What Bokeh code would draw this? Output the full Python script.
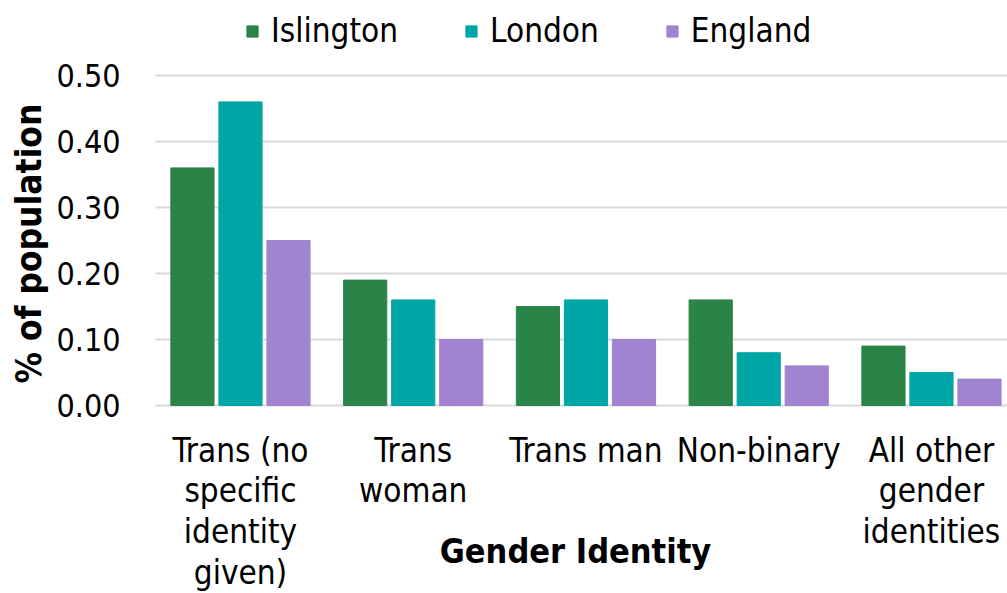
import math
from bokeh.plotting import figure
from bokeh.models import ColumnDataSource, Range1d, Legend, LegendItem
from bokeh.core.properties import value
from bokeh.transform import dodge
from bokeh.embed import file_html
from bokeh.resources import INLINE

categories = ["Trans (no\nspecific\nidentity\ngiven)", "Trans\nwoman", "Trans man",
              "Non-binary", "All other\ngender\nidentities"]
islington = [0.36, 0.19, 0.15, 0.16, 0.09]
london = [0.46, 0.16, 0.16, 0.08, 0.05]
england = [0.25, 0.10, 0.10, 0.06, 0.04]
series_names = ["Islington", "London", "England"]
colors = ["#2A8447", "#00A6A6", "#A283CF"]
y_ticks = [0.0, 0.1, 0.2, 0.3, 0.4, 0.5]
y_tick_labels = ["0.00", "0.10", "0.20", "0.30", "0.40", "0.50"]
x_title = "Gender Identity"
y_title = "% of population"

FONT = value("DejaVu Sans Condensed")
W, H = 1007, 593
PLOT_LEFT, ZERO_Y = 153.6, 405          # pixel position of the data area origin
PX_PER_CAT, PX_PER_UNIT = 172.75, 660.0

def px_x(px):   # pixel column -> data x
    return (px - PLOT_LEFT) / PX_PER_CAT

def px_y(py):   # pixel row -> data y
    return (ZERO_Y - py) / PX_PER_UNIT

n = len(categories)
xc = [i + 0.5 for i in range(n)]
src = ColumnDataSource(dict(x=xc, cat=categories, Islington=islington, London=london, England=england))

p = figure(width=W, height=H, output_backend="svg", toolbar_location=None,
           x_range=Range1d(px_x(0), px_x(W)), y_range=Range1d(px_y(H), px_y(0)),
           x_axis_type=None, y_axis_type=None, min_border=0)
p.outline_line_color = None
p.grid.visible = False

# gridlines
p.segment(x0=[px_x(155)] * len(y_ticks), x1=[px_x(W)] * len(y_ticks), y0=y_ticks, y1=y_ticks,
          line_color="#D9D9D9", line_width=2)

# bars
offsets = [-0.278, 0.0, 0.278]
renderers = []
for name, col, off in zip(series_names, colors, offsets):
    r = p.vbar(x=dodge("x", off), top=name, width=0.25, source=src,
               fill_color=col, line_color=col)
    renderers.append(r)

# y tick labels
p.text(x=[px_x(120)] * len(y_ticks), y=y_ticks, text=y_tick_labels,
       text_font=FONT, text_font_size=value("32px"), text_color="#000000",
       text_align="right", text_baseline="middle")

# category labels
p.text(x="x", y=px_y(ZERO_Y + 25), text="cat", source=src,
       text_font=FONT, text_font_size=value("33px"), text_color="#000000",
       text_align="center", text_baseline="top", text_line_height=1.05)

# axis titles
p.text(x=[px_x(575)], y=[px_y(550)], text=[x_title],
       text_font=FONT, text_font_size=value("34px"), text_font_style="bold",
       text_color="#000000", text_align="center", text_baseline="middle")
p.text(x=[px_x(28)], y=[px_y(243)], text=[y_title], angle=math.pi / 2,
       text_font=FONT, text_font_size=value("35px"), text_font_style="bold",
       text_color="#000000", text_align="center", text_baseline="middle")

legend = Legend(items=[LegendItem(label=s, renderers=[r]) for s, r in zip(series_names, renderers)],
                orientation="horizontal", location=(245, H - 50), padding=0, margin=0,
                border_line_color=None, background_fill_alpha=0,
                glyph_width=14, glyph_height=14, label_standoff=12, spacing=66,
                label_text_font="DejaVu Sans Condensed", label_text_font_size="33px",
                label_text_color="#000000")
p.add_layout(legend, "center")

open("out.html", "w").write(file_html(p, INLINE))
